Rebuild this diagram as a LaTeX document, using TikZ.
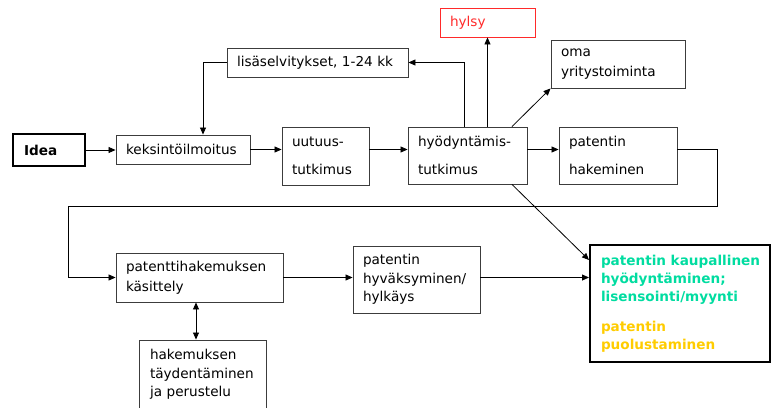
\documentclass[tikz,border=0pt]{standalone}
\usepackage{fontspec}
\setmainfont{DejaVu Sans}
\usetikzlibrary{arrows.meta}
\definecolor{tealtxt}{HTML}{00DCA0}
\definecolor{goldtxt}{HTML}{FFCC00}
\definecolor{redbox}{HTML}{FF2A2A}
\definecolor{boxgray}{HTML}{3C3C3C}
\hyphenpenalty=10000
\exhyphenpenalty=10000
\hbadness=10000
\hfuzz=20pt
\begin{document}
\begin{tikzpicture}[x=1pt,y=-1pt,
  box/.style={draw=boxgray, line width=0.9pt, inner xsep=10pt, inner ysep=0pt, align=left,
    font=\fontsize{13.6}{17}\selectfont},
  conn/.style={line width=0.8pt, -{Triangle[length=7pt,width=6pt]}},
  both/.style={line width=0.8pt, {Triangle[length=7pt,width=6pt]}-{Triangle[length=7pt,width=6pt]}}]
\useasboundingbox (0,0) rectangle (771,407);
\clip (0,0) rectangle (771,407);

\node[box, line width=2pt, draw=black, inner xsep=11pt, text width=50pt, minimum width=72pt, minimum height=32pt,
  font=\fontsize{13.6}{17}\selectfont\bfseries] (idea) at (49,150) {Idea};
\node[box, text width=114pt, minimum width=134pt, minimum height=29pt] (kek) at (183,149.5) {keksintöilmoitus};
\node[box, text width=67pt, minimum width=87pt, minimum height=58pt,
  font=\fontsize{13.6}{28}\selectfont] (uut) at (325.5,156) {uutuus-\\tutkimus};
\node[box, text width=161pt, minimum width=181pt, minimum height=29pt] (lis) at (317.5,62.5) {lisäselvitykset, 1-24 kk};
\node[box, draw=redbox, text=redbox, text width=75pt, minimum width=95pt, minimum height=29pt] (hylsy) at (487.5,22.5) {hylsy};
\node[box, text width=114pt, minimum width=134pt, minimum height=48pt,
  font=\fontsize{13.6}{20}\selectfont] (oma) at (618,64) {oma\\yritystoiminta};
\node[box, text width=99pt, minimum width=119pt, minimum height=57pt,
  font=\fontsize{13.6}{28}\selectfont] (hyo) at (467.5,155.5) {hyödyntämis-\\tutkimus};
\node[box, text width=98pt, minimum width=118pt, minimum height=57pt,
  font=\fontsize{13.6}{28}\selectfont] (pat) at (618,155.5) {patentin\\hakeminen};
\node[box, text width=147pt, minimum width=167pt, minimum height=49pt,
  font=\fontsize{13.6}{20}\selectfont] (pk) at (199.5,277.5) {patenttihakemuksen\\käsittely};
\node[box, inner xsep=11pt, text width=105pt, minimum width=127pt, minimum height=69pt,
  font=\fontsize{13.6}{18.5}\selectfont] (tay) at (202.5,374.5) {hakemuksen\\täydentäminen\\ja perustelu};
\node[box, text width=107pt, minimum width=127pt, minimum height=67pt,
  font=\fontsize{13.6}{18.5}\selectfont] (hyv) at (416.5,279.5) {patentin\\hyväksyminen/\\hylkäys};
\node[box, line width=2pt, draw=black, inner xsep=11pt, text width=158pt, minimum width=180pt, minimum height=117pt,
  font=\fontsize{13.6}{18}\selectfont\bfseries] (big) at (680,303.5)
  {\textcolor{tealtxt}{\mbox{patentin kaupallinen}\\hyödyntäminen;\\lisensointi/myynti}\\[12pt]
   \textcolor{goldtxt}{patentin\\puolustaminen}};

\coordinate (r1) at (717,206);
\coordinate (l1) at (68,206);

\draw[conn] (idea.east) -- (idea.east -| kek.west);
\draw[conn] (kek.east) -- (kek.east -| uut.west);
\draw[conn] (uut.east |- kek.east) -- (hyo.west |- kek.east);
\draw[conn] (hyo.east |- kek.east) -- (pat.west |- kek.east);
\draw[conn] (pat.east |- kek.east) -| (r1) -- (l1) |- (pk.west);
\draw[conn] (pk.east) -- (hyv.west |- pk.east);
\draw[conn] (hyv.east |- pk.east) -- (big.west |- pk.east);
\draw[both] ([xshift=-3.5pt]pk.south) -- ([xshift=-3.5pt]pk.south |- tay.north);
\draw[conn] ([xshift=-3.5pt]hyo.north) |- (lis.east);
\draw[conn] (lis.west) -| ([xshift=20pt]kek.north);
\draw[conn] (hylsy.south |- hyo.north) -- (hylsy.south);
\draw[conn] ([xshift=44.5pt]hyo.north) -- (oma.south west);
\draw[conn] ([xshift=44.5pt]hyo.south) -- ([yshift=43.5pt]big.west);
\end{tikzpicture}
\end{document}
